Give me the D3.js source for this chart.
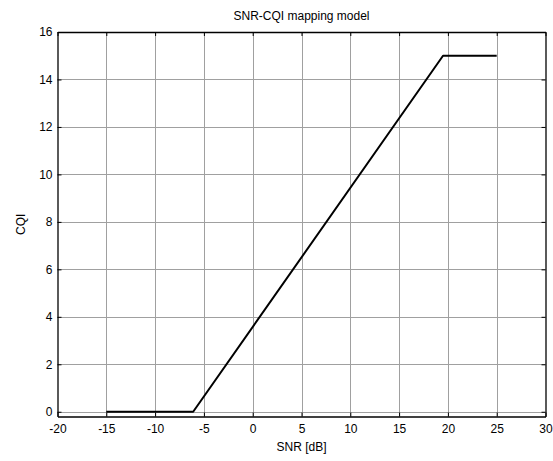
<!DOCTYPE html>
<html>
<head>
<meta charset="utf-8">
<script src="https://cdn.jsdelivr.net/npm/d3@7"></script>
<style>
  html, body { margin: 0; padding: 0; background: #fff; }
  svg { display: block; font-family: "Liberation Sans", Arial, sans-serif; }
</style>
</head>
<body>
<svg id="chart" width="553" height="461"></svg>
<script>
// SNR-to-CQI mapping: flat at 0, linear ramp, saturates at 15
const snrPoints = [-15, -6.1, 19.5, 25];
const cqiPoints = [0, 0, 15, 15];
const xTicks = [-20, -15, -10, -5, 0, 5, 10, 15, 20, 25, 30];
const yTicks = [0, 2, 4, 6, 8, 10, 12, 14, 16];

const svg = d3.select("#chart");
const plotLeft = 57.5, plotRight = 545.5, plotTop = 32, plotBottom = 416.5;
const fontSize = 12;

const x = d3.scaleLinear().domain([-20, 30]).range([plotLeft, plotRight]);
const y = d3.scaleLinear().domain([-0.2, 16]).range([plotBottom, plotTop]);

// grid lines
const grid = svg.append("g").attr("stroke", "#a0a0a0").attr("stroke-width", 1);
grid.selectAll("line.gx").data(xTicks.slice(1, -1)).join("line")
  .attr("x1", d => Math.round(x(d)) + 0.5).attr("x2", d => Math.round(x(d)) + 0.5)
  .attr("y1", plotTop).attr("y2", plotBottom);
grid.selectAll("line.gy").data(yTicks.slice(0, -1)).join("line")
  .attr("y1", d => Math.round(y(d)) + 0.5).attr("y2", d => Math.round(y(d)) + 0.5)
  .attr("x1", plotLeft).attr("x2", plotRight);

// axes with inward ticks, mirrored on top and right; plain hyphen for negatives
const fmt = d => String(d);
const axB = svg.append("g").attr("transform", `translate(0,${plotBottom})`)
  .call(d3.axisBottom(x).tickValues(xTicks).tickSizeInner(-4).tickSizeOuter(0).tickPadding(8).tickFormat(fmt));
const axT = svg.append("g").attr("transform", `translate(0,${plotTop})`)
  .call(d3.axisTop(x).tickValues(xTicks).tickSizeInner(-4).tickSizeOuter(0).tickFormat(""));
const axL = svg.append("g").attr("transform", `translate(${plotLeft},0)`)
  .call(d3.axisLeft(y).tickValues(yTicks).tickSizeInner(-4).tickSizeOuter(0).tickPadding(5).tickFormat(fmt));
const axR = svg.append("g").attr("transform", `translate(${plotRight},0)`)
  .call(d3.axisRight(y).tickValues(yTicks).tickSizeInner(-4).tickSizeOuter(0).tickFormat(""));

[axB, axT, axL, axR].forEach(a => {
  a.select(".domain").attr("stroke", "#000").attr("stroke-width", 1.3);
  a.selectAll(".tick line").attr("stroke", "#000");
  a.selectAll("text").attr("fill", "#000").attr("font-size", fontSize)
    .attr("font-family", "'Liberation Sans', Arial, sans-serif");
});

// mapping curve
const line = d3.line().x((d, i) => x(snrPoints[i])).y(d => y(d));
svg.append("path").datum(cqiPoints)
  .attr("fill", "none").attr("stroke", "#000").attr("stroke-width", 2)
  .attr("stroke-linejoin", "round")
  .attr("d", line);

// titles
svg.append("text").attr("x", (plotLeft + plotRight) / 2).attr("y", 19.5)
  .attr("text-anchor", "middle").attr("font-size", fontSize).text("SNR-CQI mapping model");
svg.append("text").attr("x", (plotLeft + plotRight) / 2).attr("y", 451)
  .attr("text-anchor", "middle").attr("font-size", fontSize).text("SNR [dB]");
svg.append("text").attr("transform", `translate(25,${(plotTop + plotBottom) / 2}) rotate(-90)`)
  .attr("text-anchor", "middle").attr("font-size", fontSize).text("CQI");
</script>
</body>
</html>
